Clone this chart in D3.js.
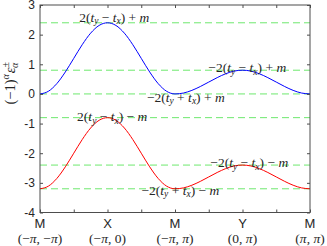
<!DOCTYPE html>
<html>
<head>
<meta charset="utf-8">
<script src="https://cdn.jsdelivr.net/npm/d3@7"></script>
<style>
body { margin: 0; background: #fff; }
svg text { fill: #262626; }
</style>
</head>
<body>
<div id="vis"></div>
<script>
var width = 327, height = 246,
    margin = {top: 5, right: 17, bottom: 33.5, left: 40};

// path through the zone: M -> X -> M -> Y -> M
var symPoints = ["M", "X", "M", "Y", "M"];
var symCoords = [["−", "π", ", ", "−", "π"], ["−", "π", ", 0", "", ""], ["−", "π", ", ", "", "π"], ["0, ", "π", "", "", ""], ["", "π", ", ", "", "π"]];
var minorTicks = [0, 0.5, 1, 1.5, 2, 2.5, 3, 3.5, 4];
var yTicks = [3, 2, 1, 0, -1, -2, -3, -4];

// band values read along the path, 8 steps per segment
var kPos = d3.range(0, 4.0001, 0.125);
var upper = [0, 0.09, 0.35, 0.74, 1.2, 1.66, 2.05, 2.31, 2.4,
  2.31, 2.05, 1.66, 1.2, 0.74, 0.35, 0.09, 0,
  0.03, 0.12, 0.25, 0.4, 0.55, 0.68, 0.77, 0.8,
  0.77, 0.68, 0.55, 0.4, 0.25, 0.12, 0.03, 0];
var lower = [-3.2, -3.11, -2.85, -2.46, -2.0, -1.54, -1.15, -0.89, -0.8,
  -0.89, -1.15, -1.54, -2.0, -2.46, -2.85, -3.11, -3.2,
  -3.17, -3.08, -2.95, -2.8, -2.65, -2.52, -2.43, -2.4,
  -2.43, -2.52, -2.65, -2.8, -2.95, -3.08, -3.17, -3.2];

// reference levels and their formulas
var levels = [2.4, 0.8, 0, -0.8, -2.4, -3.2];
var levelPre = ["2(", "−2(", "−2(", "2(", "−2(", "−2("];
var levelOp = [" − ", " − ", " + ", " − ", " − ", " + "];
var levelEnd = [") + ", ") + ", ") + ", ") − ", ") − ", ") − "];
// label placement (path position, vertical shift in px)
var labelK = [1.1, 3.07, 2.16, 1.07, 3.1, 2.08];
var labelDy = [-5, -2, 4, -0.5, -2, 2];

var svg = d3.select("#vis").append("svg")
    .attr("width", width)
    .attr("height", height)
    .style("font-family", "'Liberation Sans', Arial, sans-serif");

var x = d3.scaleLinear().domain([0, 4]).range([margin.left, width - margin.right]);
var y = d3.scaleLinear().domain([-4, 3]).range([height - margin.bottom, margin.top]);

// dashed reference lines
svg.selectAll(".lvl")
    .data(levels)
  .enter().append("line")
    .attr("x1", x(0)).attr("x2", x(4))
    .attr("y1", function(d) { return y(d) }).attr("y2", function(d) { return y(d) })
    .attr("stroke", "#6ee86e")
    .attr("stroke-width", 1)
    .attr("stroke-dasharray", "7,4");

var line = d3.line()
    .x(function(d, i) { return x(kPos[i]) })
    .y(function(d) { return y(d) })
    .curve(d3.curveMonotoneX);

svg.append("path").attr("d", line(upper)).attr("fill", "none").attr("stroke", "#0000ff").attr("stroke-width", 1);
svg.append("path").attr("d", line(lower)).attr("fill", "none").attr("stroke", "#ff0000").attr("stroke-width", 1);

// axes box
var axColor = "#4d4d4d";
function styleAxis(g) {
  g.select(".domain").remove();
  g.selectAll(".tick line").attr("stroke", axColor);
  g.selectAll(".tick text").style("font-size", "12px").attr("fill", "#262626");
}

svg.append("g").attr("transform", "translate(0," + y(-4) + ")")
    .call(d3.axisBottom(x).tickValues(minorTicks).tickSize(-3).tickFormat(""))
    .call(styleAxis);
svg.append("g").attr("transform", "translate(0," + y(3) + ")")
    .call(d3.axisTop(x).tickValues(minorTicks).tickSize(-3).tickFormat(""))
    .call(styleAxis);
svg.append("g").attr("transform", "translate(" + x(0) + ",0)")
    .call(d3.axisLeft(y).tickValues(yTicks).tickSize(-3).tickPadding(5)
      .tickFormat(function(d) { return d < 0 ? "-" + (-d) : d }))
    .call(styleAxis);
svg.append("g").attr("transform", "translate(" + x(4) + ",0)")
    .call(d3.axisRight(y).tickValues(yTicks).tickSize(-3).tickFormat(""))
    .call(styleAxis);

svg.append("rect")
    .attr("x", x(0)).attr("y", y(3))
    .attr("width", x(4) - x(0)).attr("height", y(-4) - y(3))
    .attr("fill", "none").attr("stroke", axColor).attr("stroke-width", 1);

// symmetry point labels
svg.selectAll(".sym")
    .data(symPoints)
  .enter().append("text")
    .attr("x", function(d, i) { return x(i) })
    .attr("y", y(-4) + 15)
    .attr("text-anchor", "middle")
    .style("font-size", "13px")
    .text(function(d) { return d });

var coord = svg.selectAll(".coord")
    .data(symCoords)
  .enter().append("text")
    .attr("x", function(d, i) { return x(i) })
    .attr("y", y(-4) + 30)
    .attr("text-anchor", "middle")
    .style("font-family", "'Liberation Serif', 'Times New Roman', serif")
    .style("font-size", "13.5px");
coord.each(function(d) {
  var t = d3.select(this);
  t.append("tspan").text("(" + d[0]);
  t.append("tspan").style("font-style", "italic").text(d[1]);
  t.append("tspan").text(d[2] + d[3]);
  t.append("tspan").style("font-style", "italic").text(d[4]);
  t.append("tspan").text(")");
});

// formula labels
var lab = svg.selectAll(".lab")
    .data(levels)
  .enter().append("text")
    .attr("x", function(d, i) { return x(labelK[i]) })
    .attr("y", function(d, i) { return y(d) + labelDy[i] + 4 })
    .attr("text-anchor", "middle")
    .style("font-family", "'Liberation Serif', 'Times New Roman', serif")
    .style("font-size", "13.5px");
lab.each(function(d, i) {
  var t = d3.select(this);
  t.append("tspan").text(levelPre[i]);
  t.append("tspan").style("font-style", "italic").text("t");
  t.append("tspan").style("font-style", "italic").style("font-size", "9.5px").attr("dy", 2.5).text("y");
  t.append("tspan").attr("dy", -2.5).text(levelOp[i]);
  t.append("tspan").style("font-style", "italic").text("t");
  t.append("tspan").style("font-style", "italic").style("font-size", "9.5px").attr("dy", 2.5).text("x");
  t.append("tspan").attr("dy", -2.5).text(levelEnd[i]);
  t.append("tspan").style("font-style", "italic").text("m");
});

// y label
var yl = svg.append("text")
    .attr("transform", "translate(15," + (y(1) + 19) + ") rotate(-90)")
    .attr("text-anchor", "middle")
    .style("font-family", "'Liberation Serif', 'Times New Roman', serif")
    .style("font-size", "14.5px");
yl.append("tspan").text("(−1)");
yl.append("tspan").style("font-style", "italic").style("font-size", "10px").attr("dy", -6).text("α");
yl.append("tspan").style("font-style", "italic").attr("dy", 6).attr("dx", 1).text("ε");
yl.append("tspan").style("font-size", "10px").attr("dy", -6).text("±");
yl.append("tspan").style("font-style", "italic").style("font-size", "10px").attr("dx", -6).attr("dy", 9).text("α");
</script>
</body>
</html>
